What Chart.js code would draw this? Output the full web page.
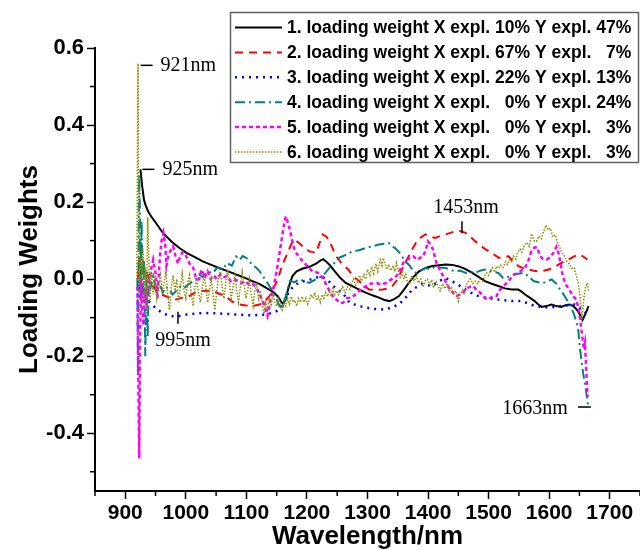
<!DOCTYPE html>
<html><head><meta charset="utf-8">
<script src="https://cdn.jsdelivr.net/npm/chart.js@4.4.1/dist/chart.umd.min.js"></script>
<style>html,body{margin:0;padding:0;background:#fff;}#wrap{width:640px;height:550px;}</style>
</head><body><div id="wrap"><canvas id="c" width="640" height="550"></canvas></div>
<script>
// ---- tick values ----
const xMajor = [900,1000,1100,1200,1300,1400,1500,1600,1700];
const xMinor = [850,950,1050,1150,1250,1350,1450,1550,1650,1750];
const yMajor = [-0.4,-0.2,0.0,0.2,0.4,0.6];
const yMinor = [-0.5,-0.3,-0.1,0.1,0.3,0.5];

// ---- series labels ----
const seriesLabels = [
  "1. loading weight X expl. 10% Y expl. 47%",
  "2. loading weight X expl. 67% Y expl. \u20077%",
  "3. loading weight X expl. 22% Y expl. 13%",
  "4. loading weight X expl. \u20070% Y expl. 24%",
  "5. loading weight X expl. \u20070% Y expl. \u20073%",
  "6. loading weight X expl. \u20070% Y expl. \u20073%"
];

// ---- series values: [wavelength nm, loading weight] ----
const lw1 = [[925,0.285],[928,0.24],[931,0.205],[934,0.19],[938,0.175],[944,0.16],[951,0.145],[962,0.12],[978,0.095],[990,0.08],[1001,0.068],[1015,0.057],[1028,0.046],[1042,0.037],[1055,0.029],[1070,0.02],[1083,0.012],[1097,0.004],[1110,-0.005],[1122,-0.013],[1132,-0.022],[1144,-0.033],[1152,-0.045],[1158,-0.06],[1161,-0.065],[1165,-0.05],[1170,-0.02],[1176,0.008],[1183,0.02],[1192,0.027],[1204,0.032],[1215,0.04],[1222,0.048],[1227,0.052],[1232,0.045],[1238,0.036],[1246,0.02],[1254,0.005],[1264,-0.01],[1275,-0.018],[1286,-0.027],[1297,-0.035],[1308,-0.042],[1319,-0.048],[1328,-0.054],[1336,-0.057],[1344,-0.052],[1352,-0.044],[1360,-0.028],[1368,-0.01],[1376,0.006],[1385,0.02],[1396,0.029],[1407,0.034],[1418,0.036],[1429,0.038],[1440,0.037],[1451,0.033],[1462,0.026],[1473,0.016],[1484,0.005],[1494,-0.005],[1505,-0.012],[1516,-0.018],[1527,-0.024],[1538,-0.027],[1549,-0.027],[1555,-0.033],[1560,-0.04],[1568,-0.048],[1576,-0.057],[1582,-0.066],[1588,-0.072],[1595,-0.07],[1604,-0.066],[1612,-0.07],[1620,-0.072],[1627,-0.068],[1634,-0.066],[1640,-0.07],[1645,-0.078],[1650,-0.09],[1655,-0.106],[1660,-0.09],[1665,-0.07]];

const lw2 = [[921,0.0],[924,0.08],[927,0.06],[931,0.03],[935,0.02],[942,-0.01],[951,-0.03],[960,-0.04],[968,-0.045],[976,-0.05],[984,-0.053],[995,-0.048],[1006,-0.044],[1015,-0.035],[1022,-0.031],[1033,-0.03],[1044,-0.03],[1055,-0.038],[1066,-0.045],[1076,-0.058],[1083,-0.064],[1097,-0.068],[1110,-0.07],[1122,-0.066],[1132,-0.055],[1140,-0.04],[1146,-0.02],[1152,0.0],[1157,0.025],[1163,0.05],[1168,0.068],[1174,0.09],[1179,0.103],[1186,0.095],[1193,0.085],[1204,0.072],[1215,0.068],[1220,0.09],[1226,0.116],[1232,0.11],[1237,0.1],[1248,0.059],[1258,0.04],[1268,0.025],[1278,0.005],[1286,-0.005],[1295,-0.018],[1303,-0.027],[1315,-0.028],[1325,-0.027],[1334,-0.024],[1341,-0.018],[1350,0.0],[1357,0.025],[1363,0.045],[1368,0.059],[1374,0.078],[1380,0.094],[1388,0.108],[1396,0.116],[1404,0.11],[1412,0.107],[1420,0.112],[1429,0.116],[1437,0.12],[1445,0.124],[1453,0.125],[1462,0.12],[1470,0.11],[1478,0.098],[1486,0.088],[1495,0.077],[1505,0.068],[1517,0.055],[1525,0.058],[1533,0.059],[1541,0.045],[1550,0.033],[1558,0.028],[1566,0.025],[1574,0.022],[1583,0.02],[1591,0.022],[1599,0.025],[1607,0.03],[1616,0.038],[1624,0.045],[1632,0.051],[1640,0.058],[1649,0.064],[1655,0.06],[1663,0.051]];

const lw3 = [[921,-0.1],[922,-0.02],[923,0.0],[926,-0.02],[930,-0.04],[934,-0.05],[941,-0.061],[950,-0.075],[957,-0.083],[965,-0.09],[973,-0.096],[986,-0.097],[1001,-0.092],[1028,-0.088],[1055,-0.089],[1083,-0.092],[1110,-0.094],[1132,-0.092],[1148,-0.085],[1154,-0.079],[1160,-0.065],[1165,-0.05],[1171,-0.031],[1178,-0.018],[1188,-0.008],[1204,-0.002],[1215,0.004],[1226,0.006],[1236,-0.005],[1243,-0.018],[1253,-0.03],[1259,-0.035],[1270,-0.061],[1286,-0.07],[1308,-0.077],[1330,-0.079],[1352,-0.066],[1363,-0.048],[1374,-0.027],[1390,-0.013],[1407,-0.018],[1418,-0.005],[1429,0.003],[1445,-0.01],[1462,-0.027],[1478,-0.042],[1495,-0.048],[1516,-0.053],[1538,-0.057],[1555,-0.057],[1577,-0.07],[1599,-0.074],[1620,-0.07],[1642,-0.066],[1658,-0.083],[1663,-0.092]];

const lw4 = [[920,0.0],[921,-0.25],[922,0.1],[923,0.27],[924,0.2],[925,-0.05],[927,0.15],[929,-0.05],[931,0.05],[933,-0.2],[935,0.02],[937,-0.15],[939,0.0],[942,-0.02],[946,0.008],[951,-0.027],[956,-0.01],[962,-0.035],[967,-0.02],[973,-0.027],[978,-0.04],[984,-0.031],[990,-0.02],[996,-0.025],[1001,-0.018],[1008,-0.01],[1017,0.0],[1022,0.012],[1028,0.005],[1036,0.02],[1044,0.015],[1052,0.03],[1061,0.025],[1068,0.042],[1076,0.035],[1083,0.059],[1089,0.05],[1094,0.06],[1100,0.055],[1105,0.046],[1111,0.035],[1116,0.03],[1122,0.02],[1127,0.008],[1133,-0.005],[1138,-0.018],[1143,-0.03],[1148,-0.045],[1153,-0.065],[1159,-0.079],[1165,-0.044],[1172,-0.005],[1180,-0.008],[1187,0.0],[1195,-0.005],[1204,-0.01],[1215,0.0],[1226,0.008],[1237,0.029],[1248,0.046],[1253,0.055],[1260,0.06],[1265,0.064],[1275,0.072],[1286,0.075],[1297,0.081],[1308,0.085],[1319,0.09],[1328,0.092],[1335,0.094],[1341,0.085],[1346,0.08],[1352,0.07],[1357,0.059],[1363,0.045],[1368,0.038],[1374,0.025],[1380,0.016],[1388,0.022],[1396,0.029],[1404,0.025],[1412,0.033],[1420,0.03],[1429,0.029],[1437,0.024],[1445,0.02],[1453,0.022],[1462,0.016],[1470,0.02],[1478,0.016],[1486,0.022],[1494,0.025],[1505,0.02],[1516,0.016],[1524,0.003],[1533,0.006],[1541,0.012],[1549,0.014],[1557,0.016],[1566,0.008],[1574,-0.005],[1582,-0.008],[1590,-0.01],[1597,-0.005],[1604,-0.001],[1612,-0.012],[1618,-0.027],[1624,-0.04],[1629,-0.053],[1635,-0.07],[1640,-0.087],[1645,-0.11],[1648,-0.131],[1651,-0.182],[1656,-0.243],[1660,-0.28],[1664,-0.325]];

const lw5 = [[920,-0.02],[921.5,-0.25],[923,-0.465],[924.5,-0.15],[926,0.0],[928,-0.08],[930,-0.12],[932,-0.03],[935,-0.06],[938,-0.02],[942,0.02],[946,0.05],[950,0.015],[953,-0.05],[956,0.03],[958,0.07],[960,0.1],[963,0.12],[966,0.09],[968,0.035],[971,0.06],[975,0.075],[979,0.085],[983,0.06],[987,0.04],[991,0.06],[995,0.07],[999,0.065],[1003,0.05],[1008,0.035],[1012,0.03],[1017,0.0],[1022,0.0],[1026,0.025],[1031,0.003],[1036,0.02],[1041,0.0],[1046,0.01],[1051,0.0],[1057,0.012],[1063,0.005],[1068,0.008],[1074,-0.005],[1080,0.0],[1086,-0.005],[1092,-0.01],[1098,-0.005],[1104,-0.014],[1110,-0.012],[1116,-0.02],[1122,-0.04],[1128,-0.06],[1135,-0.095],[1140,-0.05],[1145,-0.02],[1150,0.02],[1154,0.06],[1158,0.1],[1162,0.14],[1165,0.163],[1169,0.145],[1173,0.12],[1177,0.09],[1181,0.07],[1186,0.06],[1191,0.05],[1197,0.04],[1203,0.03],[1209,0.02],[1215,0.018],[1221,0.015],[1227,0.0],[1233,-0.018],[1239,-0.035],[1245,-0.05],[1250,-0.055],[1255,-0.062],[1260,-0.061],[1266,-0.05],[1272,-0.048],[1277,-0.044],[1283,-0.035],[1290,-0.025],[1298,-0.018],[1305,-0.012],[1315,-0.01],[1322,-0.014],[1331,-0.01],[1340,0.0],[1348,0.008],[1354,0.025],[1359,0.042],[1365,0.05],[1370,0.055],[1376,0.059],[1382,0.05],[1387,0.055],[1392,0.059],[1396,0.075],[1400,0.098],[1404,0.09],[1408,0.077],[1414,0.042],[1419,0.025],[1425,0.008],[1430,-0.01],[1436,-0.027],[1441,-0.035],[1447,-0.044],[1452,-0.04],[1458,-0.035],[1463,-0.025],[1469,-0.02],[1475,-0.018],[1480,-0.028],[1486,-0.035],[1492,-0.045],[1497,-0.053],[1502,-0.05],[1508,-0.044],[1513,-0.044],[1519,-0.027],[1530,-0.01],[1541,0.01],[1552,0.02],[1560,0.028],[1566,0.05],[1571,0.075],[1576,0.082],[1580,0.083],[1585,0.06],[1590,0.052],[1596,0.051],[1601,0.056],[1607,0.068],[1612,0.084],[1616,0.065],[1620,0.03],[1623,0.005],[1628,-0.015],[1634,-0.03],[1640,-0.045],[1645,-0.053],[1650,-0.09],[1654,-0.14],[1657,-0.18],[1659,-0.165],[1661,-0.226],[1663,-0.295],[1664,-0.305]];

const lw6 = [[919,0.0],[920,0.3],[921,0.56],[922,0.2],[923,-0.02],[925,0.05],[927,0.0],[929,0.08],[931,-0.05],[933,0.03],[935,-0.08],[937,0.16],[939,0.05],[941,-0.06],[943,0.02],[946,-0.04],[949,0.01],[952,-0.05],[955,-0.02],[958,0.01],[961,-0.03],[964,-0.01],[967,0.02],[970,-0.04],[973,-0.08],[976,-0.02],[979,0.01],[982,-0.03],[985,0.0],[988,-0.06],[991,-0.02],[994,0.015],[997,-0.03],[1000,-0.05],[1003,-0.01],[1006,0.01],[1009,-0.04],[1012,-0.07],[1015,-0.02],[1018,0.0],[1021,-0.035],[1024,-0.06],[1027,-0.025],[1030,0.01],[1033,-0.02],[1036,-0.06],[1039,-0.03],[1042,0.0],[1045,-0.04],[1048,-0.08],[1051,-0.03],[1054,0.005],[1057,0.02],[1060,-0.02],[1063,-0.05],[1066,-0.01],[1069,0.025],[1072,-0.01],[1075,-0.05],[1078,-0.02],[1081,0.01],[1084,-0.03],[1087,-0.06],[1090,-0.02],[1093,0.02],[1096,-0.01],[1099,-0.05],[1102,-0.03],[1105,0.0],[1108,-0.04],[1111,-0.07],[1114,-0.03],[1117,-0.01],[1120,-0.05],[1123,-0.03],[1126,-0.06],[1129,-0.09],[1132,-0.06],[1135,-0.08],[1138,-0.05],[1141,-0.07],[1144,-0.04],[1147,-0.06],[1150,-0.07],[1153,-0.05],[1156,-0.065],[1159,-0.08],[1162,-0.06],[1165,-0.07],[1168,-0.05],[1171,-0.065],[1174,-0.045],[1177,-0.06],[1180,-0.055],[1183,-0.07],[1186,-0.05],[1189,-0.06],[1192,-0.045],[1195,-0.06],[1198,-0.05],[1201,-0.065],[1204,-0.055],[1207,-0.04],[1210,-0.05],[1213,-0.035],[1216,-0.055],[1219,-0.045],[1222,-0.06],[1225,-0.04],[1228,-0.05],[1231,-0.035],[1234,-0.045],[1237,-0.03],[1240,-0.045],[1243,-0.025],[1246,-0.04],[1249,-0.03],[1252,-0.04],[1255,-0.03],[1259,-0.02],[1263,-0.035],[1267,-0.02],[1271,-0.027],[1274,-0.01],[1277,0.0],[1280,-0.015],[1283,-0.01],[1287,0.01],[1290,-0.005],[1294,0.012],[1297,0.0],[1300,0.025],[1304,0.01],[1307,0.032],[1310,0.015],[1314,0.04],[1317,0.02],[1321,0.05],[1324,0.035],[1326,0.055],[1329,0.04],[1332,0.025],[1335,0.038],[1338,0.022],[1342,0.035],[1345,0.02],[1348,0.042],[1351,0.02],[1354,0.005],[1357,0.018],[1360,0.0],[1363,0.012],[1366,-0.008],[1370,-0.012],[1373,0.005],[1377,-0.005],[1381,0.008],[1384,-0.01],[1388,0.0],[1392,-0.02],[1395,-0.005],[1399,0.0],[1403,-0.015],[1406,-0.002],[1409,-0.022],[1413,-0.005],[1417,-0.02],[1420,-0.03],[1424,-0.012],[1428,-0.025],[1431,-0.01],[1435,-0.03],[1439,-0.02],[1442,-0.038],[1446,-0.03],[1450,-0.057],[1453,-0.04],[1457,-0.028],[1460,-0.035],[1463,-0.015],[1467,-0.005],[1470,0.0],[1474,-0.012],[1478,-0.005],[1482,-0.012],[1486,0.0],[1490,-0.005],[1494,0.01],[1497,0.016],[1500,0.01],[1503,0.022],[1506,0.03],[1510,0.018],[1513,0.033],[1517,0.028],[1520,0.036],[1524,0.03],[1528,0.045],[1531,0.038],[1535,0.05],[1538,0.045],[1541,0.06],[1545,0.052],[1548,0.07],[1552,0.078],[1555,0.07],[1559,0.088],[1563,0.095],[1567,0.085],[1571,0.118],[1575,0.1],[1579,0.098],[1583,0.112],[1587,0.105],[1591,0.125],[1595,0.14],[1598,0.128],[1602,0.132],[1606,0.11],[1610,0.115],[1614,0.094],[1618,0.08],[1621,0.068],[1625,0.06],[1629,0.046],[1633,0.04],[1637,0.028],[1641,0.03],[1645,0.008],[1648,-0.01],[1651,-0.045],[1654,-0.105],[1657,-0.055],[1660,-0.02],[1663,-0.01],[1665,-0.03]];

// ---- peak annotations: label, wavelength, value ----
const annoLabels = ["921nm","925nm","995nm","1453nm","1663nm"];
const annoWave   = [922, 925, 987, 1456, 1664];
const annoValue  = [0.555, 0.285, -0.085, 0.119, -0.332];

const FONT = "'Liberation Sans', Arial, Helvetica, sans-serif";
Chart.defaults.font.family = FONT;
Chart.defaults.color = '#000';

const styles = [
  {color:'#000000', dash:[], width:2},
  {color:'#ff0000', dash:[8,6], width:2},
  {color:'#0000ff', dash:[2,5], width:2.5},
  {color:'#008080', dash:[10,4,2,4], width:2},
  {color:'#ff00ff', dash:[4,3], width:2.5},
  {color:'#8c8c00', dash:[1.5,1.5], width:1.5}
];
const seriesData = [lw1, lw2, lw3, lw4, lw5, lw6];

const datasets = seriesData.map((pts, i) => ({
  label: seriesLabels[i],
  data: pts.map(p => ({x: p[0], y: p[1]})),
  borderColor: styles[i].color,
  borderDash: styles[i].dash,
  borderWidth: styles[i].width,
  pointRadius: 0,
  fill: false,
  tension: 0,
  order: 6 - i
}));

const extrasPlugin = {
  id: 'extras',
  afterDraw(chart) {
    const ctx = chart.ctx, xs = chart.scales.x, ys = chart.scales.y, a = chart.chartArea;
    ctx.save();
    // minor ticks
    ctx.strokeStyle = '#000'; ctx.lineWidth = 1.5; ctx.setLineDash([]);
    xMinor.forEach(v => { const px = xs.getPixelForValue(v); ctx.beginPath(); ctx.moveTo(px, a.bottom); ctx.lineTo(px, a.bottom + 5); ctx.stroke(); });
    yMinor.forEach(v => { const py = ys.getPixelForValue(v); ctx.beginPath(); ctx.moveTo(a.left, py); ctx.lineTo(a.left - 5, py); ctx.stroke(); });

    // annotations
    ctx.font = "20px 'Liberation Serif', 'Times New Roman', serif";
    ctx.fillStyle = '#000'; ctx.textBaseline = 'middle';
    annoLabels.forEach((t, i) => {
      const px = xs.getPixelForValue(annoWave[i]);
      const py = ys.getPixelForValue(annoValue[i]);
      ctx.beginPath();
      if (i === 0 || i === 1) {
        ctx.moveTo(px + 2, py); ctx.lineTo(px + 14, py); ctx.stroke();
        ctx.textAlign = 'left'; ctx.fillText(t, px + 22, py);
      } else if (i === 2) {
        ctx.moveTo(px, py); ctx.lineTo(px, py + 12); ctx.stroke();
        ctx.textAlign = 'center'; ctx.fillText(t, px + 5, py + 29);
      } else if (i === 3) {
        ctx.moveTo(px, py); ctx.lineTo(px, py - 12); ctx.stroke();
        ctx.textAlign = 'center'; ctx.fillText(t, px + 4, py - 26);
      } else {
        ctx.moveTo(px - 10, py); ctx.lineTo(px + 3, py); ctx.stroke();
        ctx.textAlign = 'right'; ctx.fillText(t, px - 20, py + 2);
      }
    });

    // legend box
    const bx = 230.5, by = 12.5, bw = 408, bh = 150;
    ctx.fillStyle = '#fff'; ctx.fillRect(bx, by, bw, bh);
    ctx.strokeStyle = '#606060'; ctx.lineWidth = 1.5; ctx.strokeRect(bx, by, bw, bh);
    chart.data.datasets.forEach((ds, i) => {
      const y = 27.5 + i * 24.9;
      ctx.beginPath();
      ctx.setLineDash(ds.borderDash);
      ctx.strokeStyle = ds.borderColor; ctx.lineWidth = ds.borderWidth;
      ctx.moveTo(235, y); ctx.lineTo(282, y); ctx.stroke();
      ctx.setLineDash([]);
      ctx.fillStyle = '#000';
      ctx.font = "bold 17.5px " + FONT;
      ctx.textAlign = 'left'; ctx.textBaseline = 'middle';
      ctx.fillText(ds.label, 287, y + 1);
    });
    ctx.restore();
  }
};

new Chart(document.getElementById('c'), {
  type: 'line',
  data: { datasets },
  options: {
    responsive: false,
    animation: false,
    devicePixelRatio: 1,
    layout: { padding: { top: 48, right: 0, bottom: 0, left: 0 } },
    plugins: { legend: { display: false }, tooltip: { enabled: false } },
    scales: {
      x: {
        type: 'linear', min: 850, max: 1750,
        afterBuildTicks: s => { s.ticks = xMajor.map(v => ({value: v})); },
        afterFit: s => { s.height = 59; },
        ticks: { autoSkip: false, maxRotation: 0, padding: 2, color: '#000',
                 font: { size: 21, weight: 'bold' }, callback: v => String(v) },
        grid: { drawOnChartArea: false, drawTicks: true, tickLength: 8, tickWidth: 1.5, tickColor: '#000' },
        border: { display: true, color: '#000', width: 2 },
        title: { display: true, text: 'Wavelength/nm', color: '#000',
                 font: { size: 26, weight: 'bold', lineHeight: 1 }, padding: { top: 0, bottom: 0 } }
      },
      y: {
        type: 'linear', min: -0.55, max: 0.6,
        afterBuildTicks: s => { s.ticks = yMajor.map(v => ({value: v})); },
        afterFit: s => { s.width = 95; },
        ticks: { padding: 3, color: '#000', font: { size: 22, weight: 'bold' },
                 callback: v => Number(v).toFixed(1) },
        grid: { drawOnChartArea: false, drawTicks: true, tickLength: 8, tickWidth: 1.5, tickColor: '#000' },
        border: { display: true, color: '#000', width: 2 },
        title: { display: true, text: 'Loading Weights', color: '#000',
                 font: { size: 26, weight: 'bold', lineHeight: 1 }, padding: { top: 17, bottom: 0 } }
      }
    }
  },
  plugins: [extrasPlugin]
});
</script></body></html>
